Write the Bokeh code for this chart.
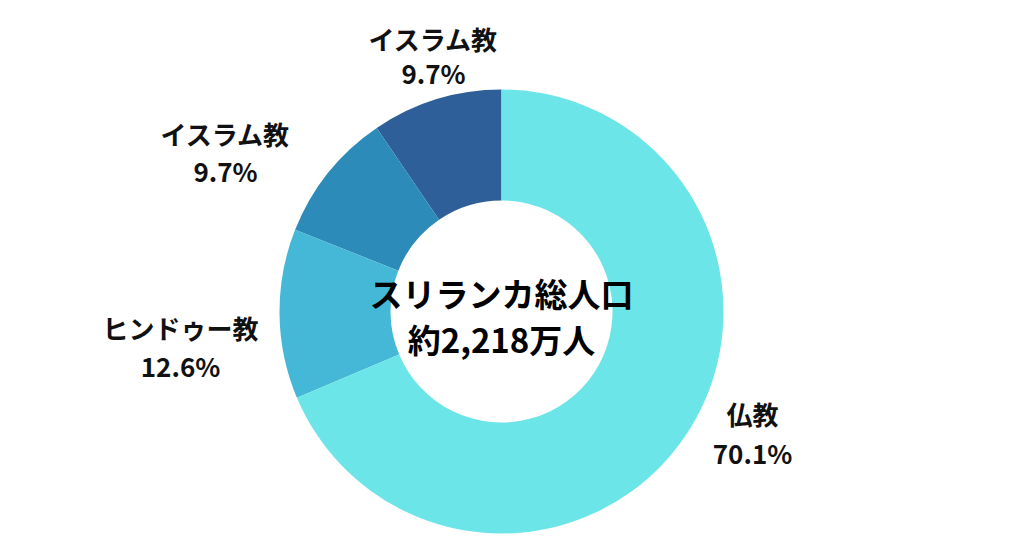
import math
from bokeh.plotting import figure
from bokeh.models import Range1d, ColumnDataSource
from bokeh.core.properties import value
from bokeh.embed import file_html
from bokeh.resources import INLINE

# Data (anticlockwise from top)
religions = ["イスラム教", "イスラム教", "ヒンドゥー教", "仏教"]
shares = [9.7, 9.7, 12.6, 70.1]
colors = ["#2F5F98", "#2D8BBA", "#44B8D6", "#6CE5E8"]
center_lines = ["スリランカ総人口", "約2,218万人"]

# Label positions (annotation anchors, page pixels)
label_x = [433, 225, 180, 752]
label_y1 = [38, 133, 327, 413]
label_y2 = [72, 170, 365, 452]

H = 536
cx, cy = 501, H - 311
r_out, r_in = 222, 111

total = sum(shares)
starts, ends = [], []
a = math.pi / 2
for s in shares:
    starts.append(a)
    a += s / total * 2 * math.pi
    ends.append(a)

p = figure(width=1024, height=536, output_backend="svg", toolbar_location=None,
           x_range=Range1d(0, 1024), y_range=Range1d(0, 536), min_border=0)
p.axis.visible = False
p.grid.visible = False
p.outline_line_color = None
p.background_fill_color = "white"

src = ColumnDataSource(dict(start=starts, end=ends, color=colors))
p.annular_wedge(x=cx, y=cy, inner_radius=r_in, outer_radius=r_out,
                start_angle="start", end_angle="end", color="color",
                direction="anticlock", source=src, line_color=None)

font = value("Noto Sans CJK JP")
p.text(x=label_x, y=[H - v for v in label_y1], text=religions,
       text_font=font, text_font_style="bold", text_font_size="26px",
       text_align="center", text_baseline="middle", text_color="#111111")
p.text(x=label_x, y=[H - v for v in label_y2], text=[f"{s}%" for s in shares],
       text_font=font, text_font_style="bold", text_font_size="26px",
       text_align="center", text_baseline="middle", text_color="#111111")
p.text(x=[cx, cx], y=[H - 292, H - 338], text=center_lines,
       text_font=font, text_font_style="bold", text_font_size="33px",
       text_align="center", text_baseline="middle", text_color="#000000")

open("out.html", "w").write(file_html(p, INLINE))
